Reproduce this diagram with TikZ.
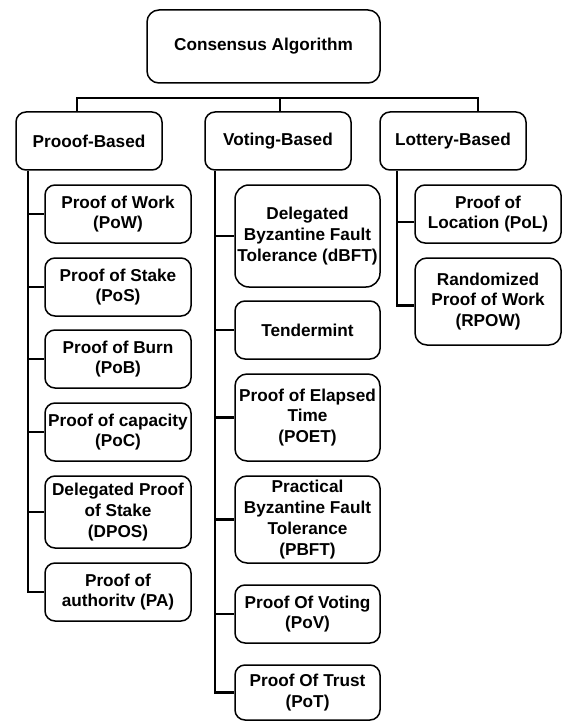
\documentclass[tikz,border=0pt]{standalone}
\usepackage{fontspec}
\setmainfont{Liberation Sans}
\begin{document}
\begin{tikzpicture}[x=1pt,y=-1pt,
  box/.style={draw=black, line width=1.5pt, rounded corners=10pt, align=center, inner sep=0pt,
    minimum width=146pt, minimum height=58pt, font=\fontsize{17.2}{20.8}\selectfont\bfseries},
  conn/.style={draw=black, line width=2.5pt}]
\useasboundingbox (0,0) rectangle (562,722);
% top and categories
\node[box, minimum width=233pt, minimum height=73pt, rounded corners=12pt] (top) at (263.5,46.5) {Consensus Algorithm};
\node[box] (pb) at (89,141) {Prooof-Based};
\node[box] (vb) at (278,141) {Voting-Based};
\node[box] (lb) at (453,141) {Lottery-Based};
% left column
\node[box] (pow) at (118,214) {Proof of Work\\(PoW)};
\node[box] (pos) at (118,287) {Proof of Stake\\(PoS)};
\node[box] (pob) at (118,359) {Proof of Burn\\(PoB)};
\node[box] (poc) at (118,432) {Proof of capacity\\(PoC)};
\node[box, minimum height=72pt] (dpos) at (118,512) {Delegated Proof\\of Stake\\(DPOS)};
\node[box] (pa) at (118,592) {Proof of\\authoritv (PA)};
% middle column
\node[box, minimum width=145pt, minimum height=102pt, rounded corners=14pt] (dbft) at (307.5,236) {Delegated\\Byzantine Fault\\Tolerance (dBFT)};
\node[box, minimum width=145pt] (tend) at (307.5,330) {Tendermint};
\node[box, minimum width=145pt, minimum height=87pt, rounded corners=12pt] (poet) at (307.5,417.5) {Proof of Elapsed\\Time\\(POET)};
\node[box, minimum width=145pt, minimum height=87pt, rounded corners=12pt] (pbft) at (307.5,519.5) {Practical\\Byzantine Fault\\Tolerance\\(PBFT)};
\node[box, minimum width=145pt] (pov) at (307.5,614) {Proof Of Voting\\(PoV)};
\node[box, minimum width=145pt, minimum height=55pt] (pot) at (307.5,692.5) {Proof Of Trust\\(PoT)};
% right column
\node[box] (pol) at (488,214) {Proof of\\Location (PoL)};
\node[box, minimum height=87pt, rounded corners=12pt] (rpow) at (488,301.5) {Randomized\\Proof of Work\\(RPOW)};
% bus
\draw[conn] ([xshift=-12pt]pb.north) -- ++(0,-13) -| ([xshift=25pt]lb.north);
\draw[conn] ([xshift=2pt]vb.north) -- ++(0,-13);
% left trunk
\coordinate (lt) at ([xshift=-61pt]pb.south);
\draw[conn] (lt) |- (pa.west);
\foreach \n in {pow,pos,pob,poc,dpos} \draw[conn] (lt |- \n.west) -- (\n.west);
% middle trunk
\coordinate (mt) at ([xshift=-63pt]vb.south);
\draw[conn] (mt) |- (pot.west);
\foreach \n in {dbft,tend,poet,pbft,pov} \draw[conn] (mt |- \n.west) -- (\n.west);
% right trunk
\coordinate (rt) at ([xshift=-56pt]lb.south);
\coordinate (polin) at ([yshift=-8pt]pol.west);
\coordinate (rpowin) at ([yshift=-4pt]rpow.west);
\draw[conn] (rt) |- (rpowin);
\draw[conn] (rt |- polin) -- (polin);
\end{tikzpicture}
\end{document}
